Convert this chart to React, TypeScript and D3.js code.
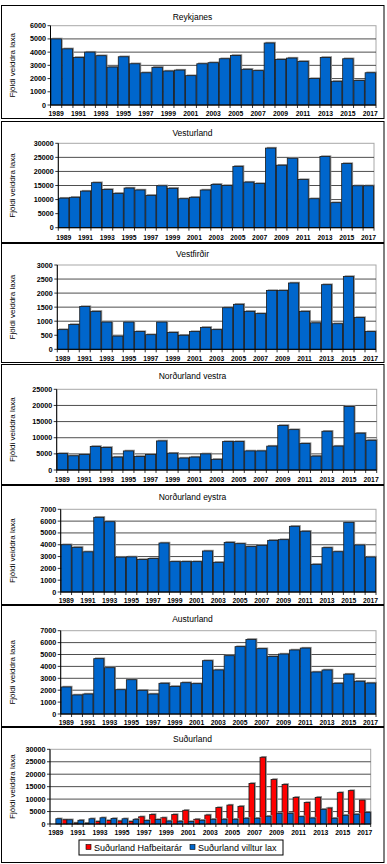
import React from 'react';
import * as d3 from 'd3';

const years = [1989, 1990, 1991, 1992, 1993, 1994, 1995, 1996, 1997, 1998, 1999, 2000, 2001, 2002, 2003, 2004, 2005, 2006, 2007, 2008, 2009, 2010, 2011, 2012, 2013, 2014, 2015, 2016, 2017];

const reykjanes = [5000, 4250, 3600, 4000, 3730, 2870, 3650, 3120, 2440, 2850, 2570, 2640, 2220, 3120, 3200, 3500, 3750, 2700, 2600, 4690, 3450, 3550, 3300, 2000, 3600, 1790, 3500, 1850, 2440];
const vesturland = [10500, 10800, 13000, 16000, 13600, 12200, 14100, 13400, 11500, 14900, 14000, 10300, 10800, 13400, 15400, 15000, 21800, 16200, 15700, 28300, 22200, 24700, 17100, 10300, 25300, 8900, 22800, 14900, 14900];
const vestfirdir = [700, 880, 1520, 1350, 970, 470, 970, 630, 520, 970, 600, 500, 630, 780, 700, 1480, 1600, 1350, 1270, 2090, 2090, 2360, 1350, 940, 2300, 910, 2590, 1130, 630];
const nordurlandVestra = [5100, 4400, 4800, 7300, 7000, 4000, 5900, 4200, 4800, 9000, 5200, 3700, 4000, 5000, 3300, 8800, 8800, 5900, 5900, 7400, 13800, 12500, 8200, 4300, 12000, 7400, 19700, 11400, 9200];
const nordurlandEystra = [4000, 3780, 3400, 6320, 5950, 2950, 2970, 2750, 2830, 4150, 2570, 2570, 2570, 3470, 2510, 4200, 4090, 3840, 3950, 4370, 4430, 5560, 5140, 2340, 3750, 3410, 5900, 3980, 2960];
const austurland = [2270, 1600, 1680, 4650, 3890, 2040, 2880, 1990, 1680, 2580, 2320, 2630, 2550, 4480, 3700, 4900, 5660, 6270, 5490, 4840, 5040, 5380, 5540, 3530, 3700, 2580, 3350, 2750, 2600];
const sudurlandHafbeit = [0, 1700, 400, 300, 1000, 1400, 1200, 1000, 2900, 3800, 2500, 3800, 5500, 1900, 3600, 6600, 7600, 7100, 16300, 26800, 17900, 15900, 10700, 8600, 10700, 6400, 12600, 13400, 9600];
const sudurlandVilltur = [2100, 1700, 1500, 2100, 2500, 2200, 2100, 1900, 1400, 1800, 1200, 1100, 1000, 1500, 1900, 1900, 1900, 2300, 2300, 3100, 4300, 4300, 2950, 2400, 5900, 2300, 3500, 3900, 4600];

const seriesNames = ['Suðurland Hafbeitarár', 'Suðurland villtur lax'];
const seriesColors = ['#ff0000', '#0066cc'];

const FONT = 'Liberation Sans, Arial, sans-serif';
const AXIS_LABEL = 'Fjöldi veiddra laxa';

type Panel = {
  title: string;
  series: number[][];
  colors: string[];
  yMax: number;
  yStep: number;
  box: [number, number];
  plot: { top: number; bottom: number; left: number; right: number };
  titleY: number;
  yearY: number;
  legend?: boolean;
};

const panels: Panel[] = [
  { title: 'Reykjanes', series: [reykjanes], colors: ['#0066cc'], yMax: 6000, yStep: 1000, box: [5, 118], plot: { top: 25.7, bottom: 105, left: 50.5, right: 376 }, titleY: 17, yearY: 113 },
  { title: 'Vesturland', series: [vesturland], colors: ['#0066cc'], yMax: 30000, yStep: 5000, box: [121, 242], plot: { top: 143.3, bottom: 227.7, left: 58.3, right: 374 }, titleY: 133, yearY: 237 },
  { title: 'Vestfirðir', series: [vestfirdir], colors: ['#0066cc'], yMax: 3000, yStep: 500, box: [243, 362], plot: { top: 265, bottom: 349.3, left: 57.3, right: 376 }, titleY: 254, yearY: 358 },
  { title: 'Norðurland vestra', series: [nordurlandVestra], colors: ['#0066cc'], yMax: 25000, yStep: 5000, box: [364, 484], plot: { top: 389.3, bottom: 470, left: 56.7, right: 376.7 }, titleY: 375.7, yearY: 479.5 },
  { title: 'Norðurland eystra', series: [nordurlandEystra], colors: ['#0066cc'], yMax: 7000, yStep: 1000, box: [485, 604], plot: { top: 509.3, bottom: 592, left: 60.7, right: 376 }, titleY: 496.7, yearY: 600.5 },
  { title: 'Austurland', series: [austurland], colors: ['#0066cc'], yMax: 7000, yStep: 1000, box: [605, 726], plot: { top: 630.7, bottom: 714, left: 60.7, right: 376 }, titleY: 619, yearY: 722 },
  { title: 'Suðurland', series: [sudurlandHafbeit, sudurlandVilltur], colors: seriesColors, yMax: 30000, yStep: 5000, box: [727, 862], plot: { top: 749.3, bottom: 824, left: 50, right: 370.7 }, titleY: 739, yearY: 832.7, legend: true },
];

function ChartPanel({ p }: { p: Panel }) {
  const { top, bottom, left, right } = p.plot;
  const x = d3.scaleBand<number>().domain(years).range([left, right]).paddingInner(p.series.length > 1 ? 0.0 : 0.07).paddingOuter(p.series.length > 1 ? 0.03 : 0.04);
  const xs = d3.scaleBand<number>().domain(d3.range(p.series.length)).range([0, x.bandwidth()]);
  const y = d3.scaleLinear().domain([0, p.yMax]).range([bottom, top]);
  const ticks = d3.range(0, p.yMax + 1, p.yStep);
  const step = (right - left) / years.length;
  const boundaries = d3.range(years.length + 1).map((i) => left + i * step);
  const midY = (top + bottom) / 2;
  return (
    <g>
      <rect x={1.5} y={p.box[0] + 0.5} width={382.5} height={p.box[1] - p.box[0]} fill="#fff" stroke="#000" strokeWidth={1} />
      <text x={(1 + 384) / 2} y={p.titleY} textAnchor="middle" dominantBaseline="central" fontFamily={FONT} fontSize={8.5} fill="#000">{p.title}</text>
      <text transform={`translate(12.5,${midY}) rotate(-90)`} textAnchor="middle" dominantBaseline="central" fontFamily={FONT} fontSize={8} fill="#000">{AXIS_LABEL}</text>
      <rect x={left} y={top} width={right - left} height={bottom - top} fill="#fff" stroke="#a8a8a8" strokeWidth={1} />
      {ticks.filter((t) => t > 0 && t < p.yMax).map((t) => (
        <line key={t} x1={left} x2={right} y1={y(t)} y2={y(t)} stroke="#3a3a3a" strokeWidth={0.9} />
      ))}
      {p.series.map((s, si) =>
        s.map((v, i) => {
          const bx = (x(years[i]) as number) + xs(si)!;
          const bw = xs.bandwidth();
          const by = y(v);
          const h = bottom - by;
          if (v <= 0) return null;
          return (
            <g key={`${si}-${i}`}>
              <rect x={bx + 1.3} y={by - 1.2} width={bw} height={h + 1.2} fill="#8c8c8c" />
              <rect x={bx} y={by} width={bw} height={h} fill={p.colors[si]} stroke="#1a1a1a" strokeWidth={0.8} />
            </g>
          );
        })
      )}
      <line x1={left} x2={left} y1={top} y2={bottom} stroke="#000" strokeWidth={1} />
      <line x1={left} x2={right} y1={bottom} y2={bottom} stroke="#000" strokeWidth={1} />
      {ticks.map((t) => (
        <g key={t}>
          <line x1={left - 3} x2={left} y1={y(t)} y2={y(t)} stroke="#000" strokeWidth={0.8} />
          <text x={left - 4.5} y={y(t)} textAnchor="end" dominantBaseline="central" fontFamily={FONT} fontSize={7.2} fontWeight="bold" fill="#000">{t}</text>
        </g>
      ))}
      {boundaries.map((bxv, i) => (
        <line key={i} x1={bxv} x2={bxv} y1={bottom} y2={bottom + 3} stroke="#000" strokeWidth={0.8} />
      ))}
      {years.map((yr, i) => (i % 2 === 0 ? (
        <text key={yr} x={(x(yr) as number) + x.bandwidth() / 2} y={p.yearY} textAnchor="middle" dominantBaseline="central" fontFamily={FONT} fontSize={6.8} fontWeight="bold" fill="#000">{yr}</text>
      ) : null))}
      {p.legend && (
        <g>
          <rect x={79} y={840} width={204} height={15} fill="#fff" stroke="#000" strokeWidth={1} />
          {seriesNames.map((n, i) => {
            const lx = i === 0 ? 86 : 190;
            return (
              <g key={n}>
                <rect x={lx} y={844.5} width={5} height={5} fill={seriesColors[i]} stroke="#000" strokeWidth={0.6} />
                <text x={lx + 8} y={847.5} dominantBaseline="central" fontFamily={FONT} fontSize={9} fill="#000">{n}</text>
              </g>
            );
          })}
        </g>
      )}
    </g>
  );
}

export default function App() {
  return (
    <svg width={387} height={864} viewBox="0 0 387 864" style={{ position: 'absolute', left: 0, top: 0, background: '#fff' }}>
      <rect x={0} y={0} width={387} height={864} fill="#fff" />
      {panels.map((p) => (
        <ChartPanel key={p.title} p={p} />
      ))}
    </svg>
  );
}
